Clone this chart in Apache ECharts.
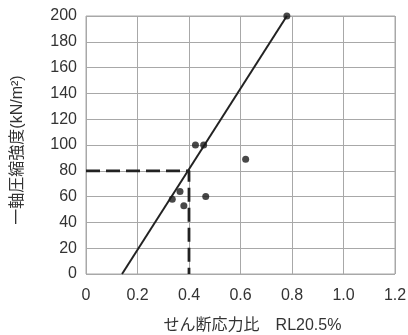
<!DOCTYPE html>
<html>
<head>
<meta charset="utf-8">
<script src="https://cdn.jsdelivr.net/npm/echarts@6/dist/echarts.min.js"></script>
<style>
html, body { margin: 0; padding: 0; background: #fff; }
#main { width: 408px; height: 335px; }
</style>
</head>
<body>
<div id="main"></div>
<script>
// 測定点 (せん断応力比, 一軸圧縮強度)
var ratio = [0.335, 0.365, 0.38, 0.425, 0.457, 0.465, 0.62, 0.78];
var strength = [58, 64, 53, 100, 100, 60, 89, 200];

// 回帰直線
var fitX = [0.14, 0.78];
var fitY = [0, 200];

// 読み取り線 (破線)
var readX = [0, 0.4, 0.4];
var readY = [80, 80, 0];

var xTicks = ['0', '0.2', '0.4', '0.6', '0.8', '1.0', '1.2'];

function pairs(xs, ys) {
    var out = [];
    for (var i = 0; i < xs.length; i++) out.push([xs[i], ys[i]]);
    return out;
}

var dom = document.getElementById('main');
var myChart = echarts.init(dom);

var gridLine = { show: true, lineStyle: { color: '#a8a8a8', width: 1 } };
var jpFont = '"Liberation Sans", "Noto Sans CJK JP", sans-serif';

var option = {
    animation: false,
    textStyle: { fontFamily: jpFont },
    grid: {
        left: 86, right: 13, top: 16, bottom: 61,
        outerBoundsMode: 'none',
        show: true, borderColor: '#a8a8a8', borderWidth: 1
    },
    xAxis: {
        type: 'value',
        min: 0, max: 1.2, interval: 0.2,
        name: 'せん断応力比　RL20.5%',
        nameLocation: 'middle',
        nameGap: 44,
        nameTextStyle: { fontSize: 16, color: '#333', padding: [0, 0, 0, 24] },
        axisLine: { show: false },
        axisTick: { show: false },
        splitLine: gridLine,
        axisLabel: {
            fontSize: 16, color: '#333', margin: 14,
            formatter: function (v) { return xTicks[Math.round(v / 0.2)]; }
        }
    },
    yAxis: {
        type: 'value',
        min: 0, max: 200, interval: 20,
        name: '一軸圧縮強度(kN/m²)',
        nameLocation: 'middle',
        nameRotate: 90,
        nameGap: 60,
        nameTextStyle: { fontSize: 16, color: '#333', padding: [0, 10, 0, 0] },
        axisLine: { show: false },
        axisTick: { show: false },
        splitLine: gridLine,
        axisLabel: { fontSize: 16, color: '#333', margin: 9 }
    },
    series: [
        {
            type: 'line',
            data: pairs(readX, readY),
            symbol: 'none',
            lineStyle: { color: '#222', width: 2.8, type: [14, 6] },
            z: 2
        },
        {
            type: 'line',
            data: pairs(fitX, fitY),
            symbol: 'none',
            lineStyle: { color: '#222', width: 2 },
            z: 3
        },
        {
            type: 'scatter',
            data: pairs(ratio, strength),
            symbolSize: 7,
            itemStyle: { color: '#1a1a1a' },
            z: 4
        }
    ]
};

myChart.setOption(option);
</script>
</body>
</html>
